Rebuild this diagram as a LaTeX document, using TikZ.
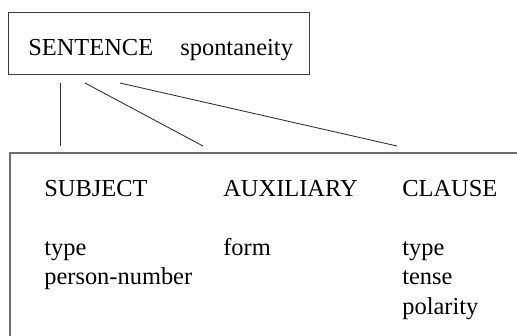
\documentclass[tikz,border=0pt]{standalone}
\usepackage{fontspec}
\setmainfont{Liberation Serif}
\begin{document}
\begin{tikzpicture}[x=0.02cm,y=-0.02cm,font=\fontsize{13.9}{16.8}\selectfont]
  \definecolor{boxline}{HTML}{3C3C3C}
  \definecolor{frameline}{HTML}{6E6E6E}
  \definecolor{linkline}{HTML}{333333}
  \tikzset{
    label/.style={anchor=base west,inner sep=0pt,text=black},
    link/.style={draw=linkline,line width=0.5pt}
  }
  \clip (0,0) rectangle (517,335);
  \path[use as bounding box] (0,0) rectangle (517,335);
  % top box
  \node[draw=boxline,line width=0.55pt,minimum width=6.04cm,minimum height=1.24cm,
    inner sep=0pt] (sentence) at (159,43) {};
  \node[label] (sent) at (28,55) {SENTENCE};
  \node[label] (spont) at (180,55) {spontaneity};
  % lower box, runs off the page
  \draw[frameline,line width=0.8pt] (10,153) rectangle (560,360);
  \node[label] (subj) at (44,196) {SUBJECT};
  \node[label] (aux) at (223,196) {AUXILIARY};
  \node[label] (clause) at (402,196) {CLAUSE};
  \node[label] (subjtype) at (44,255) {type};
  \node[label] (subjpn) at (44,284.5) {person-number};
  \node[label] (auxform) at (223,255) {form};
  \node[label] (cltype) at (402,255) {type};
  \node[label] (cltense) at (402,284.5) {tense};
  \node[label] (clpol) at (402,314) {polarity};
  % connectors
  \coordinate (from1) at (60,83);
  \coordinate (from2) at (85,83);
  \coordinate (from3) at (120,83);
  \coordinate (to1) at (60,146);
  \coordinate (to2) at (203,146);
  \coordinate (to3) at (397,146);
  \draw[link] (from1) -- (to1);
  \draw[link] (from2) -- (to2);
  \draw[link] (from3) -- (to3);
\end{tikzpicture}
\end{document}
